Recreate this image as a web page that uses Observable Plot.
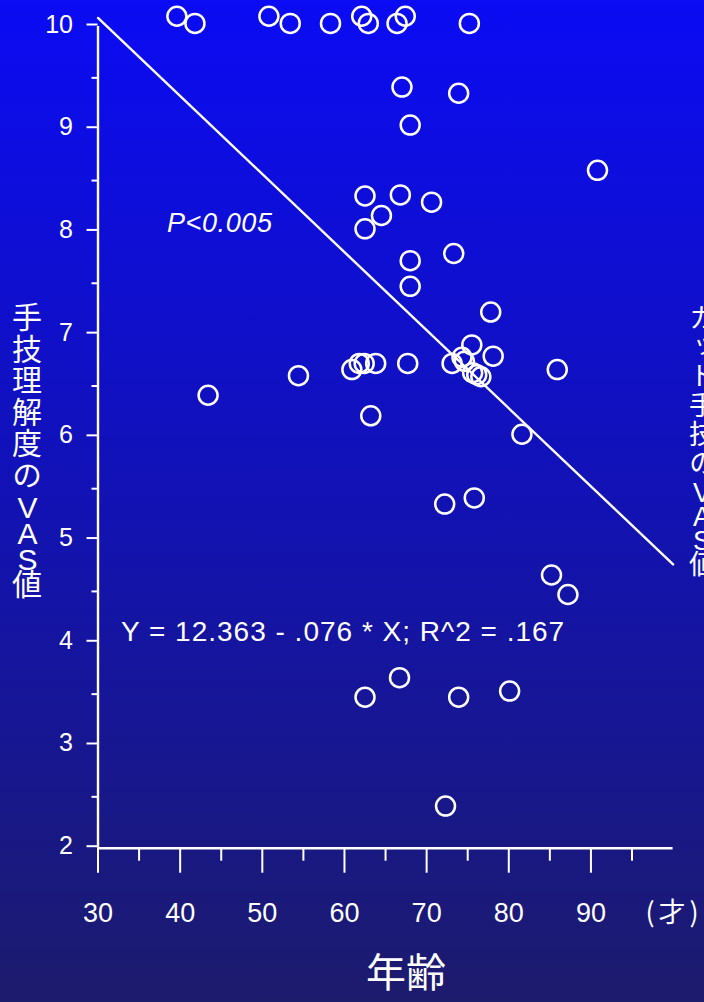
<!DOCTYPE html>
<html>
<head>
<meta charset="utf-8">
<script src="https://cdn.jsdelivr.net/npm/d3@7"></script>
<script src="https://cdn.jsdelivr.net/npm/@observablehq/plot@0.6"></script>
<style>
  html, body { margin: 0; padding: 0; }
  body {
    width: 704px; height: 1002px; overflow: hidden; position: relative;
    background: linear-gradient(to bottom, #0b0bf4 0%, #1212b4 50%, #1c1b6c 100%);
  }
  #chart { position: absolute; left: 0; top: 0; }
  .vlabel {
    position: absolute; writing-mode: vertical-rl; text-orientation: upright;
    color: white; font-family: "Noto Sans CJK JP", sans-serif; line-height: 1; white-space: nowrap;
  }
  .vlabel .lat { font-family: "Liberation Sans", Arial, sans-serif; }
</style>
</head>
<body>
<div id="chart"></div>
<div class="vlabel" id="yl" style="left:12px; top:302px; font-size:30px; letter-spacing:1.5px;">手技理解度の<span class="lat" style="letter-spacing:-7px;">VAS</span>値</div>
<div class="vlabel" id="yr" style="left:688px; top:304px; font-size:27px; letter-spacing:2px;">カット手技の<span class="lat" style="letter-spacing:-6px;">VAS</span>値</div>
<script>
// Age (years) and VAS values
const ages = [39.6, 41.8, 50.8, 53.4, 58.3, 62.1, 62.9, 66.4, 67.4, 75.2,
              67.0, 73.9, 68.0, 90.8, 62.5, 66.8, 64.5, 70.6, 62.5, 73.3,
              68.0, 68.0, 77.8, 60.9, 61.8, 62.4, 63.8, 67.7, 73.1, 74.3,
              74.6, 75.5, 78.1, 75.6, 76.1, 76.6, 85.9, 54.4, 43.4, 63.2,
              81.6, 75.8, 72.2, 85.2, 87.2, 62.5, 66.7, 73.9, 80.1, 72.3];
const vas  = [10.10, 10.03, 10.10, 10.03, 10.03, 10.10, 10.03, 10.03, 10.10, 10.03,
              9.41, 9.35, 9.04, 8.60, 8.35, 8.36, 8.16, 8.29, 8.03, 7.79,
              7.72, 7.47, 7.22, 6.66, 6.72, 6.72, 6.72, 6.72, 6.72, 6.78,
              6.74, 6.90, 6.79, 6.63, 6.61, 6.59, 6.66, 6.60, 6.41, 6.21,
              6.03, 5.41, 5.35, 4.66, 4.47, 3.47, 3.66, 3.47, 3.53, 2.41];

// Regression line endpoints (Y = 12.363 - .076 * X)
const fitX = [30, 100];
const fitY = [10.083, 4.763];

// Tick values
const xMajor = [30, 40, 50, 60, 70, 80, 90];
const xMinor = [35, 45, 55, 65, 75, 85, 95];
const yMajor = [2, 3, 4, 5, 6, 7, 8, 9, 10];
const yMinor = [2.5, 3.5, 4.5, 5.5, 6.5, 7.5, 8.5, 9.5];

// Annotation texts
const pText = ["P<0.005"];
const eqText = ["Y = 12.363 - .076 * X; R^2 = .167"];
const unitText = ["(才)"];
const xTitle = ["年齢"];

const points = ages.map((a, i) => ({age: a, vas: vas[i]}));
const fit = fitX.map((x, i) => ({x, y: fitY[i]}));

const latin = "'Liberation Sans', Arial, sans-serif";
const cjk = "'Noto Sans CJK JP', sans-serif";

const chart = Plot.plot({
  width: 704,
  height: 1002,
  marginLeft: 97.5,
  marginRight: 31.4,
  marginTop: 26,
  marginBottom: 154.3,
  x: {domain: [30, 100]},
  y: {domain: [2, 10]},
  style: {background: "transparent", color: "white", fontFamily: latin, overflow: "visible"},
  marks: [
    Plot.axisY({ticks: yMajor, tickSize: 11, tickPadding: 14, fontSize: 25, dy: -2,
                strokeWidth: 2, label: null, tickFormat: d => String(d)}),
    Plot.axisY({ticks: yMinor, tickSize: 6, strokeWidth: 2, label: null, tickFormat: () => ""}),
    Plot.axisX({ticks: xMajor, tickSize: 25, tickPadding: 30, fontSize: 27,
                strokeWidth: 2, label: null, tickFormat: d => String(d)}),
    Plot.axisX({ticks: xMinor, tickSize: 13, strokeWidth: 2, label: null, tickFormat: () => ""}),
    Plot.ruleX([30], {stroke: "white", strokeWidth: 2.4}),
    Plot.ruleY([2], {stroke: "white", strokeWidth: 2.4}),
    Plot.line(fit, {x: "x", y: "y", stroke: "white", strokeWidth: 2.4}),
    Plot.dot(points, {x: "age", y: "vas", r: 9.5, stroke: "white", strokeWidth: 2.5, fill: "none"}),
    Plot.text(pText, {x: () => 38.4, y: () => 8.08, text: d => d, textAnchor: "start",
                      fontSize: 27, fontStyle: "italic", fill: "white"}),
    Plot.text(eqText, {x: () => 32.8, y: () => 4.1, text: d => d, textAnchor: "start",
                       fontSize: 28, fill: "white"}),
    Plot.text(unitText, {x: () => 100, y: () => 2, text: d => d, textAnchor: "middle",
                         lineAnchor: "top", dy: 55, dx: 1, fontSize: 27, fontFamily: cjk, fill: "white"}),
    Plot.text(xTitle, {x: () => 67.5, y: () => 2, text: d => d, textAnchor: "middle",
                       lineAnchor: "top", dy: 110, fontSize: 40, fontFamily: cjk, fill: "white"})
  ]
});
// Match letter spacing of annotation text lines
const sel = d3.select(chart).selectAll("text");
sel.filter(function() { return this.textContent === eqText[0]; }).style("letter-spacing", "1px");
sel.filter(function() { return this.textContent === pText[0]; }).style("letter-spacing", "0.6px");
sel.filter(function() { return this.textContent === unitText[0]; }).style("letter-spacing", "4px");
document.getElementById("chart").appendChild(chart);
</script>
</body>
</html>
